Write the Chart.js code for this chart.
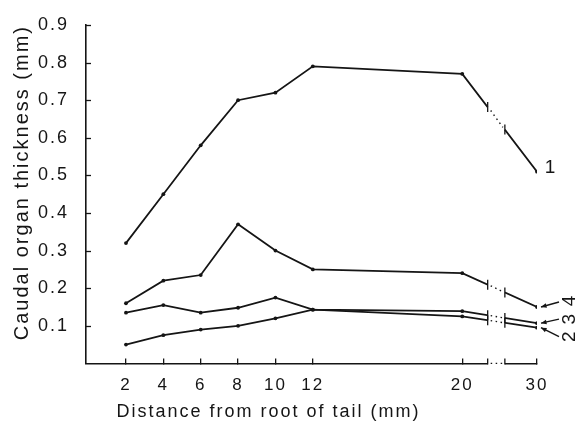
<!DOCTYPE html>
<html>
<head>
<meta charset="utf-8">
<script src="https://cdn.jsdelivr.net/npm/chart.js@4.4.1/dist/chart.umd.min.js"></script>
<style>
  html, body { margin: 0; padding: 0; background: #fff; }
  canvas { display: block; }
</style>
</head>
<body>
<canvas id="chart" width="576" height="428"></canvas>
<script>
// ===== Data =====
const distances = [2, 4, 6, 8, 10, 12, 20, 30];
const tickLabels = ["2", "4", "6", "8", "10", "12", "20", "30"];
const series1 = [0.32, 0.45, 0.58, 0.70, 0.72, 0.79, 0.77, 0.51];
const series4 = [0.16, 0.22, 0.235, 0.37, 0.30, 0.25, 0.24, 0.15];
const series3 = [0.135, 0.155, 0.135, 0.148, 0.175, 0.143, 0.139, 0.107];
const series2 = [0.05, 0.075, 0.09, 0.10, 0.12, 0.143, 0.125, 0.095];
const seriesNames = ["1", "4", "3", "2"];
const yTicks = [0.1, 0.2, 0.3, 0.4, 0.5, 0.6, 0.7, 0.8, 0.9];

// the axis is broken between 20 and 30 mm
function brk(mm) {
  return mm <= 20 ? mm : 20 + (mm - 20) * 0.4;
}
const BREAK_AT = [0.34, 0.57];
const INK = "#151515";
const FONT = "'Liberation Sans', Arial, sans-serif";

function toPoints(vals) {
  return distances.map((d, i) => ({ x: brk(d), y: vals[i] }));
}

function lerp(a, b, t) {
  return { x: a.x + (b.x - a.x) * t, y: a.y + (b.y - a.y) * t };
}

// ===== Break marks, inner y ticks, line labels, arrows =====
const labelOpts = [
  { dx: 13, dy: -4, rot: false },
  { dx: 33, dy: -6, rot: true, ax: 22, ay: -5 },
  { dx: 33, dy: -4, rot: true, ax: 22, ay: -4 },
  { dx: 33, dy: 9, rot: true, ax: 22, ay: 9 },
];

const decorations = {
  id: "decorations",
  beforeDraw(chart) {
    chart.ctx.letterSpacing = "2px";
  },
  afterDatasetsDraw(chart) {
    const ctx = chart.ctx;
    const xs = chart.scales.x;
    const ys = chart.scales.y;
    ctx.save();
    ctx.letterSpacing = "0px";

    // y ticks point into the plot
    ctx.strokeStyle = INK;
    ctx.lineWidth = 1.3;
    ys.ticks.forEach((t) => {
      const py = Math.round(ys.getPixelForValue(t.value)) + 0.5;
      ctx.beginPath();
      ctx.moveTo(ys.right, py);
      ctx.lineTo(ys.right + 5, py);
      ctx.stroke();
    });

    const segs = chart.data.datasets.map((ds, i) => {
      const pts = chart.getDatasetMeta(i).data;
      return { a: pts[pts.length - 2], b: pts[pts.length - 1] };
    });
    // axis segment between 20 and 30
    const axY = chart.chartArea.bottom;
    segs.push({
      a: { x: xs.getPixelForValue(brk(20)), y: axY },
      b: { x: xs.getPixelForValue(brk(30)), y: axY },
      axis: true,
    });

    // erase the middle part
    ctx.strokeStyle = "#fff";
    ctx.lineWidth = 3.4;
    segs.forEach(({ a, b }) => {
      const p = lerp(a, b, BREAK_AT[0]), q = lerp(a, b, BREAK_AT[1]);
      ctx.beginPath();
      ctx.moveTo(p.x, p.y);
      ctx.lineTo(q.x, q.y);
      ctx.stroke();
    });

    // dotted gap + cross bars
    ctx.strokeStyle = INK;
    segs.forEach(({ a, b, axis }) => {
      const p = lerp(a, b, BREAK_AT[0]), q = lerp(a, b, BREAK_AT[1]);
      ctx.lineWidth = 1.4;
      ctx.setLineDash([1.5, 3.5]);
      ctx.beginPath();
      ctx.moveTo(p.x + 3, p.y + (q.y - p.y) * 0.15);
      ctx.lineTo(q.x - 2, q.y - (q.y - p.y) * 0.1);
      ctx.stroke();
      ctx.setLineDash([]);
      ctx.lineWidth = 1.3;
      [p, q].forEach((m) => {
        ctx.beginPath();
        if (axis) {
          ctx.moveTo(m.x, m.y - 5);
          ctx.lineTo(m.x, m.y + 1);
        } else {
          ctx.moveTo(m.x, m.y - 5);
          ctx.lineTo(m.x, m.y + 5);
        }
        ctx.stroke();
      });
    });

    // labels + arrows
    ctx.fillStyle = INK;
    ctx.font = "19px " + FONT;
    ctx.textAlign = "center";
    ctx.textBaseline = "middle";
    segs.slice(0, 4).forEach(({ b }, i) => {
      const o = labelOpts[i];
      ctx.save();
      ctx.translate(b.x + o.dx, b.y + o.dy);
      if (o.rot) ctx.rotate(-Math.PI / 2);
      ctx.fillText(seriesNames[i], 0, 0);
      ctx.restore();
      if (o.rot) {
        const sx = b.x + o.ax, sy = b.y + o.ay;
        const ex = b.x + 4, ey = b.y;
        const ang = Math.atan2(ey - sy, ex - sx);
        ctx.lineWidth = 1.3;
        ctx.beginPath();
        ctx.moveTo(sx, sy);
        ctx.lineTo(ex, ey);
        ctx.stroke();
        ctx.beginPath();
        ctx.moveTo(ex, ey);
        ctx.lineTo(ex - 6 * Math.cos(ang - 0.4), ey - 6 * Math.sin(ang - 0.4));
        ctx.lineTo(ex - 6 * Math.cos(ang + 0.4), ey - 6 * Math.sin(ang + 0.4));
        ctx.closePath();
        ctx.fill();
      }
    });
    ctx.restore();
  },
};

// ===== Chart =====
function lineSet(name, vals) {
  return {
    label: name,
    data: toPoints(vals),
    borderColor: INK,
    backgroundColor: INK,
    borderWidth: 1.8,
    pointRadius: 1.9,
    pointBorderWidth: 0,
    tension: 0,
  };
}

new Chart(document.getElementById("chart"), {
  type: "line",
  data: {
    datasets: [
      lineSet("1", series1),
      lineSet("4", series4),
      lineSet("3", series3),
      lineSet("2", series2),
    ],
  },
  options: {
    responsive: false,
    animation: false,
    layout: { padding: { top: 25, right: 39, left: 0, bottom: 0 } },
    plugins: {
      legend: { display: false },
      tooltip: { enabled: false },
      title: {
        display: true,
        position: "bottom",
        text: "Distance from root of tail (mm)",
        color: INK,
        font: { family: FONT, size: 18, weight: "normal" },
        padding: { top: 7, bottom: 5 },
      },
    },
    scales: {
      x: {
        type: "linear",
        min: -0.14,
        max: 24,
        afterBuildTicks: (s) => {
          s.ticks = distances.map((d) => ({ value: brk(d) }));
        },
        afterFit: (s) => { s.height = 31; },
        border: { display: true, color: INK, width: 1.6 },
        grid: { drawOnChartArea: false, drawTicks: true, tickLength: -5, color: INK, lineWidth: 1.3 },
        ticks: {
          autoSkip: false,
          maxRotation: 0,
          padding: 17,
          color: INK,
          font: { family: FONT, size: 17 },
          callback: (v, i) => tickLabels[i],
        },
      },
      y: {
        min: 0,
        max: 0.9,
        afterBuildTicks: (s) => {
          s.ticks = yTicks.map((v) => ({ value: v }));
        },
        afterFit: (s) => { s.width = 86; },
        border: { display: true, color: INK, width: 1.6 },
        // ticks are painted inward by the plugin; this only spaces the labels
        grid: { drawOnChartArea: false, drawTicks: true, tickLength: 17, tickColor: "rgba(0,0,0,0)" },
        ticks: {
          padding: 0,
          color: INK,
          font: { family: FONT, size: 18 },
          callback: (v) => v.toFixed(1),
        },
        title: {
          display: true,
          text: "Caudal organ thickness (mm)",
          align: "end",
          color: INK,
          font: { family: FONT, size: 20, weight: "normal" },
          padding: { top: 10, bottom: 0 },
        },
      },
    },
  },
  plugins: [decorations],
});
</script>
</body>
</html>
